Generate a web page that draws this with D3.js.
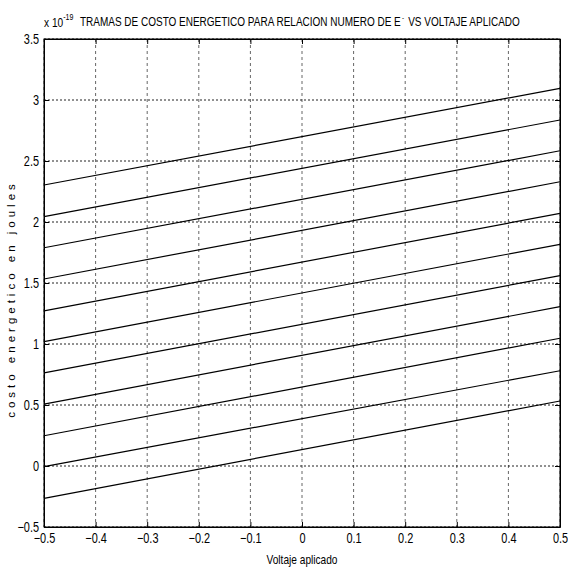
<!DOCTYPE html>
<html>
<head>
<meta charset="utf-8">
<script src="https://cdn.jsdelivr.net/npm/d3@7"></script>
<style>
  body { margin: 0; background: #fff; }
  text { font-family: "Liberation Sans", Arial, sans-serif; }
</style>
</head>
<body>
<div id="chart"></div>
<script>
// data (units of 1e-19 J)
var voltage = [-0.5, 0.5];
var startVals = [-0.265, -0.005, 0.248, 0.507, 0.763, 1.02, 1.272, 1.533, 1.789, 2.044, 2.303];
var endVals = [0.533, 0.781, 1.047, 1.306, 1.56, 1.817, 2.071, 2.33, 2.584, 2.836, 3.096];
var xTicks = [-0.5, -0.4, -0.3, -0.2, -0.1, 0, 0.1, 0.2, 0.3, 0.4, 0.5];
var yTicks = [-0.5, 0, 0.5, 1, 1.5, 2, 2.5, 3, 3.5];

var W = 568, H = 568;
var margin = {top: 39, right: 8, bottom: 41, left: 44},
    width = W - margin.left - margin.right,
    height = H - margin.top - margin.bottom;
var squeeze = 0.78;

var svg = d3.select("#chart").append("svg")
    .attr("width", W).attr("height", H);

var g = svg.append("g")
    .attr("transform", "translate(" + margin.left + "," + margin.top + ")");

var x = d3.scaleLinear().domain([-0.5, 0.5]).range([0, width]);
var y = d3.scaleLinear().domain([-0.5, 3.5]).range([height, 0]);

// grid
g.selectAll(".vgrid").data(xTicks).enter().append("line")
    .attr("x1", function(d) { return x(d); }).attr("x2", function(d) { return x(d); })
    .attr("y1", 0).attr("y2", height)
    .attr("stroke", "#666").attr("stroke-dasharray", "3,3");
g.selectAll(".hgrid").data(yTicks).enter().append("line")
    .attr("y1", function(d) { return y(d); }).attr("y2", function(d) { return y(d); })
    .attr("x1", 0).attr("x2", width)
    .attr("stroke", "#222").attr("stroke-dasharray", "2,2");

// lines
var lines = startVals.map(function(v, i) {
  return [[voltage[0], v], [voltage[1], endVals[i]]];
});
var line = d3.line().x(function(d) { return x(d[0]); }).y(function(d) { return y(d[1]); });
g.selectAll(".ln").data(lines).enter().append("path")
    .attr("d", line).attr("fill", "none")
    .attr("stroke", "#000").attr("stroke-width", 1.2);

// axes
var fmt = function(d) { return d3.format("")(d); };
var xAxis = g.append("g").attr("transform", "translate(0," + height + ")")
    .call(d3.axisBottom(x).tickValues(xTicks).tickFormat(fmt).tickSizeInner(-5).tickSizeOuter(0).tickPadding(6));
var yAxis = g.append("g")
    .call(d3.axisLeft(y).tickValues(yTicks).tickFormat(fmt).tickSizeInner(-5).tickSizeOuter(0).tickPadding(5));
g.append("g").attr("transform", "translate(" + width + ",0)")
    .call(d3.axisRight(y).tickValues(yTicks).tickFormat("").tickSizeInner(-5).tickSizeOuter(0));
g.append("g")
    .call(d3.axisTop(x).tickValues(xTicks).tickFormat("").tickSizeInner(-5).tickSizeOuter(0));

svg.selectAll(".domain").attr("stroke", "#000");
svg.selectAll(".tick line").attr("stroke", "#000");
svg.selectAll(".tick text").attr("font-size", 14).attr("fill", "#000")
    .style("font-family", '"Liberation Sans", Arial, sans-serif');
// narrow look like the reference
xAxis.selectAll(".tick text").attr("transform", "scale(" + squeeze + ",1)");
yAxis.selectAll(".tick text")
    .attr("x", -5 / squeeze)
    .attr("transform", "scale(" + squeeze + ",1)");

// box
g.append("rect").attr("width", width).attr("height", height)
    .attr("fill", "none").attr("stroke", "#000");

// exponent label
var ex = svg.append("text").attr("transform", "translate(44,27) scale(" + squeeze + ",1)")
    .attr("font-size", 13).attr("fill", "#000");
ex.append("tspan").text("x 10");
ex.append("tspan").attr("dy", -7).attr("font-size", 9).text("-19");

// title: pieces in a group, squeezed to the reference width
var tg = svg.append("g");
var t1 = tg.append("text").attr("x", 0).attr("y", 0).attr("font-size", 13).attr("fill", "#000")
    .text("TRAMAS DE COSTO ENERGETICO PARA RELACION NUMERO DE E");
var w1 = t1.node().getComputedTextLength();
tg.append("text").attr("x", w1 + 1).attr("y", -6).attr("font-size", 8).attr("fill", "#000")
    .text("-");
var t2 = tg.append("text").attr("x", w1 + 9).attr("y", 0).attr("font-size", 13).attr("fill", "#000")
    .text("VS VOLTAJE APLICADO");
var wAll = w1 + 9 + t2.node().getComputedTextLength();
tg.attr("transform", "translate(80,26) scale(" + (440 / wAll) + ",1)");

// axis labels
svg.append("text").attr("transform", "translate(" + (margin.left + width / 2) + ",564) scale(" + squeeze + ",1)")
    .attr("text-anchor", "middle").attr("font-size", 13).attr("fill", "#000")
    .text("Voltaje aplicado");
svg.append("text")
    .attr("transform", "translate(15,299) rotate(-90)")
    .attr("text-anchor", "middle").attr("font-size", 11.5).attr("fill", "#000")
    .attr("letter-spacing", "4px")
    .text("costo energetico en joules");
</script>
</body>
</html>
